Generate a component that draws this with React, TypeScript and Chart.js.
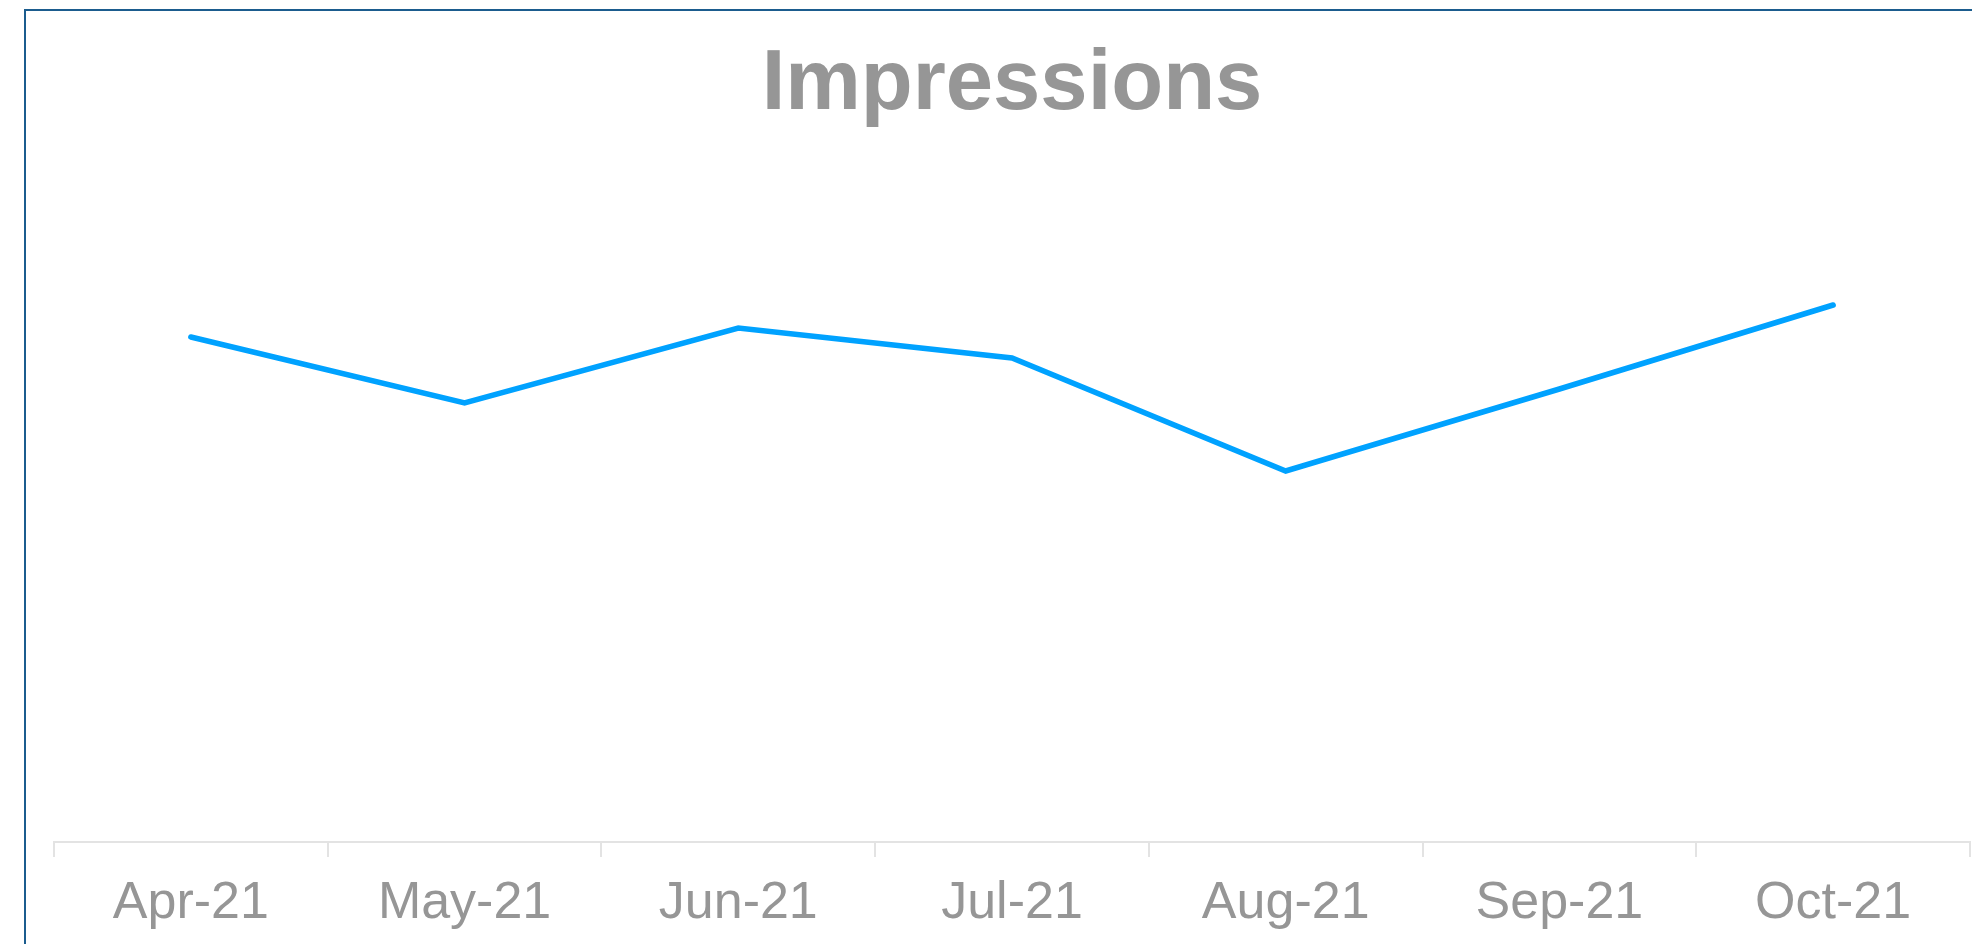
import React, { useEffect, useRef } from "react";
import { Chart, registerables } from "chart.js";

Chart.register(...registerables);

const categories = ["Apr-21", "May-21", "Jun-21", "Jul-21", "Aug-21", "Sep-21", "Oct-21"];
const impressions = [5050, 4390, 5140, 4840, 3710, 4530, 5370];
const yMin = 0;
const yMax = 7000;

export default function App() {
  const ref = useRef<HTMLCanvasElement | null>(null);

  useEffect(() => {
    if (!ref.current) return;
    const chart = new Chart(ref.current, {
      type: "line",
      data: {
        labels: categories,
        datasets: [
          {
            label: "Impressions",
            data: impressions,
            borderColor: "#00a2ff",
            backgroundColor: "#00a2ff",
            borderWidth: 5.5,
            borderCapStyle: "round",
            pointRadius: 0,
            tension: 0,
            fill: false,
          },
        ],
      },
      options: {
        animation: false,
        responsive: false,
        maintainAspectRatio: false,
        layout: { padding: { left: 28, right: 14, top: 0, bottom: 11.6 } },
        plugins: {
          legend: { display: false },
          tooltip: { enabled: false },
          title: {
            display: true,
            text: "Impressions",
            color: "#969696",
            font: { family: "'Liberation Sans', Arial, sans-serif", size: 85, weight: "bold" },
            padding: { top: 24, bottom: 5 },
          },
        },
        scales: {
          x: {
            offset: true,
            grid: {
              display: true,
              offset: true,
              drawOnChartArea: false,
              drawTicks: true,
              tickLength: 15,
              color: "#e3e3e3",
              lineWidth: 2,
            },
            border: { display: true, color: "#e3e3e3", width: 2 },
            ticks: {
              color: "#969696",
              padding: 15,
              maxRotation: 0,
              autoSkip: false,
              font: { family: "'Liberation Sans', Arial, sans-serif", size: 52 },
            },
          },
          y: {
            display: false,
            min: yMin,
            max: yMax,
          },
        },
      },
    });
    return () => chart.destroy();
  }, []);

  return (
    <div style={{ position: "fixed", inset: 0, overflow: "hidden", background: "#fff" }}>
      <div
        style={{
          position: "absolute",
          left: 24,
          top: 9,
          width: 2000,
          height: 1000,
          border: "2px solid #1b5c8e",
          boxSizing: "content-box",
        }}
      >
        <canvas ref={ref} width={1958} height={950} style={{ display: "block", width: 1958, height: 950 }} />
      </div>
    </div>
  );
}
